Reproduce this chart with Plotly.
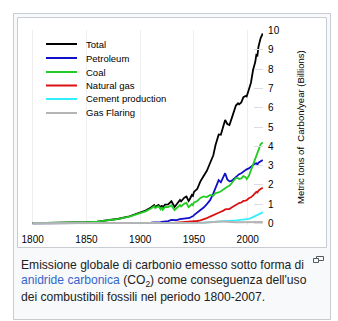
import plotly.graph_objects as go

# ---------------- data (billions of metric tons of carbon per year) ----------------
years = [1800, 1810, 1820, 1830, 1840, 1850, 1860, 1870, 1880, 1890,
         1900, 1905, 1910, 1913, 1914, 1917, 1919, 1920, 1921, 1923,
         1926, 1929, 1932, 1934, 1937, 1938, 1941, 1943, 1945, 1946,
         1948, 1949, 1950, 1953, 1956, 1959, 1962, 1965, 1968, 1970,
         1973, 1975, 1977, 1979, 1981, 1983, 1985, 1987, 1989, 1991,
         1992, 1994, 1996, 1998, 1999, 2001, 2003, 2005, 2007, 2008,
         2009, 2010, 2012, 2014]

total = [0.008, 0.010, 0.014, 0.024, 0.033, 0.054, 0.091, 0.147, 0.236, 0.356,
         0.534, 0.663, 0.819, 0.943, 0.850, 0.955, 0.806, 0.932, 0.803, 0.970,
         0.983, 1.145, 0.847, 0.973, 1.209, 1.142, 1.334, 1.391, 1.160, 1.238,
         1.469, 1.419, 1.630, 1.782, 2.177, 2.451, 2.725, 3.130, 3.535, 4.053,
         4.615, 4.596, 4.923, 5.369, 5.156, 5.106, 5.434, 5.740, 6.117, 6.227,
         6.175, 6.270, 6.550, 6.610, 6.585, 6.930, 7.300, 7.970, 8.370, 8.740,
         8.710, 9.170, 9.620, 9.855]

coal = [0.008, 0.010, 0.014, 0.024, 0.033, 0.054, 0.091, 0.146, 0.232, 0.350,
        0.507, 0.623, 0.766, 0.880, 0.788, 0.885, 0.725, 0.835, 0.705, 0.850,
        0.840, 0.930, 0.690, 0.780, 0.950, 0.880, 1.020, 1.060, 0.840, 0.880,
        1.000, 0.940, 1.078, 1.150, 1.320, 1.400, 1.360, 1.470, 1.430, 1.570,
        1.600, 1.670, 1.750, 1.850, 1.900, 1.950, 2.100, 2.200, 2.350, 2.350,
        2.300, 2.330, 2.450, 2.400, 2.300, 2.450, 2.750, 3.100, 3.400, 3.550,
        3.650, 3.800, 4.100, 4.200]

petroleum = [0, 0, 0, 0, 0, 0, 0, 0.001, 0.003, 0.004,
             0.016, 0.022, 0.035, 0.044, 0.042, 0.050, 0.060, 0.075, 0.078, 0.095,
             0.115, 0.175, 0.150, 0.170, 0.220, 0.225, 0.250, 0.260, 0.255, 0.280,
             0.350, 0.365, 0.423, 0.540, 0.700, 0.820, 1.000, 1.200, 1.550, 1.840,
             2.240, 2.130, 2.350, 2.600, 2.280, 2.180, 2.200, 2.300, 2.450, 2.550,
             2.550, 2.600, 2.700, 2.780, 2.800, 2.850, 2.950, 3.050, 3.100, 3.120,
             3.050, 3.150, 3.200, 3.290]

natural_gas = [0, 0, 0, 0, 0, 0, 0, 0, 0, 0,
               0.010, 0.016, 0.018, 0.019, 0.020, 0.020, 0.021, 0.022, 0.020, 0.025,
               0.028, 0.036, 0.037, 0.040, 0.050, 0.052, 0.055, 0.060, 0.063, 0.068,
               0.085, 0.090, 0.097, 0.120, 0.150, 0.200, 0.270, 0.350, 0.430, 0.490,
               0.580, 0.600, 0.640, 0.720, 0.740, 0.740, 0.820, 0.890, 0.970, 1.040,
               1.050, 1.080, 1.160, 1.180, 1.200, 1.300, 1.350, 1.450, 1.550, 1.630,
               1.600, 1.700, 1.780, 1.850]

cement = [0, 0, 0, 0, 0, 0, 0, 0, 0, 0,
          0, 0, 0, 0, 0, 0, 0, 0, 0, 0,
          0.005, 0.010, 0.006, 0.008, 0.010, 0.010, 0.012, 0.012, 0.010, 0.012,
          0.015, 0.016, 0.018, 0.025, 0.032, 0.040, 0.047, 0.056, 0.065, 0.078,
          0.095, 0.095, 0.106, 0.115, 0.120, 0.120, 0.130, 0.140, 0.150, 0.160,
          0.165, 0.180, 0.190, 0.200, 0.210, 0.230, 0.270, 0.320, 0.370, 0.400,
          0.410, 0.450, 0.510, 0.570]

gas_flaring = [0, 0, 0, 0, 0, 0, 0, 0, 0, 0,
               0, 0, 0, 0, 0, 0, 0, 0, 0, 0,
               0, 0, 0, 0, 0, 0, 0.005, 0.005, 0.005, 0.008,
               0.012, 0.015, 0.023, 0.025, 0.030, 0.035, 0.045, 0.060, 0.070, 0.087,
               0.110, 0.090, 0.090, 0.080, 0.060, 0.050, 0.050, 0.050, 0.050, 0.060,
               0.060, 0.060, 0.060, 0.060, 0.060, 0.060, 0.062, 0.064, 0.066, 0.066,
               0.066, 0.066, 0.068, 0.068]

series_names = ["Total", "Petroleum", "Coal", "Natural gas", "Cement production", "Gas Flaring"]
series_values = [total, petroleum, coal, natural_gas, cement, gas_flaring]
series_colors = ["#000000", "#1010c8", "#22cc22", "#dd1111", "#33eeff", "#b4b4b4"]

x_ticks = [1800, 1850, 1900, 1950, 2000]
y_ticks = list(range(0, 11))

caption_lines = [
    "Emissione globale di carbonio emesso sotto forma di",
    "<span style='color:#3366cc'>anidride carbonica</span> (CO<sub>2</sub>) come conseguenza dell'uso",
    "dei combustibili fossili nel periodo 1800-2007.",
]
y_title = "Metric tons of\u00a0 Carbon/year (Billions)"

for v in series_values:
    assert len(v) == len(years)

# ---------------- geometry helpers (pixels -> paper) ----------------
W, H = 338, 321


def px(x):
    return x / W


def py(y):
    return 1 - y / H


X_RANGE = [1799, 2014.3]
Y_RANGE = [-0.08, 10.05]
x_dom = [px(31.6), px(263.1)]
y_dom = [py(224.84), py(29.74)]

FONT = "Liberation Sans, Arial, sans-serif"

fig = go.Figure()
for name, vals, col in zip(series_names, series_values, series_colors):
    fig.add_trace(go.Scatter(
        x=years, y=vals, mode="lines", name=name,
        line=dict(color=col, width=1.8 if name != "Gas Flaring" else 2),
        showlegend=False, hoverinfo="skip"))

shapes = []
# outer thumbnail frame
shapes.append(dict(type="rect", xref="paper", yref="paper",
                   x0=px(13.5), x1=px(330.5), y0=py(319.5), y1=py(13.5),
                   line=dict(color="#c8ccd1", width=1), fillcolor="#f8f9fa", layer="below"))
# image frame
shapes.append(dict(type="rect", xref="paper", yref="paper",
                   x0=px(17.5), x1=px(326.5), y0=py(247.5), y1=py(17.5),
                   line=dict(color="#c8ccd1", width=1), fillcolor="#ffffff", layer="below"))
# magnify icon
shapes.append(dict(type="rect", xref="paper", yref="paper",
                   x0=px(316.5), x1=px(323.5), y0=py(260.5), y1=py(256.5),
                   line=dict(color="#54595d", width=1), fillcolor="rgba(0,0,0,0)"))
shapes.append(dict(type="rect", xref="paper", yref="paper",
                   x0=px(313.5), x1=px(318.5), y0=py(262.5), y1=py(258.5),
                   line=dict(color="#54595d", width=1), fillcolor="#f8f9fa"))

annotations = []
legend_rows = [44, 58, 72, 85.5, 99, 113]
for name, col, ry in zip(series_names, series_colors, legend_rows):
    shapes.append(dict(type="line", xref="paper", yref="paper",
                       x0=px(46), x1=px(77), y0=py(ry), y1=py(ry),
                       line=dict(color=col, width=2)))
    annotations.append(dict(text=name, xref="paper", yref="paper",
                            x=px(84), y=py(ry), xanchor="left", yanchor="middle",
                            showarrow=False, font=dict(family=FONT, size=9.5, color="#000")))

annotations.append(dict(text=y_title, xref="paper", yref="paper", x=px(301), y=py(127),
                        textangle=-90, xanchor="center", yanchor="middle", showarrow=False,
                        font=dict(family=FONT, size=9.5, color="#000")))

for txt, cy in zip(caption_lines, [264.5, 281, 297]):
    annotations.append(dict(text=txt, xref="paper", yref="paper", x=px(19), y=py(cy),
                            xanchor="left", yanchor="middle", showarrow=False,
                            font=dict(family=FONT, size=12.1, color="#202122")))

fig.update_layout(
    width=W, height=H, margin=dict(l=0, r=0, t=0, b=0, autoexpand=False),
    paper_bgcolor="#ffffff", plot_bgcolor="rgba(0,0,0,0)",
    showlegend=False, shapes=shapes, annotations=annotations,
    xaxis=dict(domain=x_dom, range=X_RANGE, tickvals=x_ticks, automargin=False,
               ticktext=[str(t) for t in x_ticks], showgrid=True, gridcolor="#eeeeee",
               gridwidth=1, zeroline=False, showline=False, ticks="",
               ticklabelstandoff=7, tickfont=dict(family=FONT, size=10, color="#000")),
    yaxis=dict(domain=y_dom, range=Y_RANGE, side="right", tickvals=y_ticks, automargin=False,
               showgrid=False, zeroline=False, showline=False, ticks="inside",
               ticklen=9, tickcolor="#dddddd", ticklabelstandoff=4,
               tickfont=dict(family=FONT, size=10, color="#000")),
)

fig.write_html("out.html")
